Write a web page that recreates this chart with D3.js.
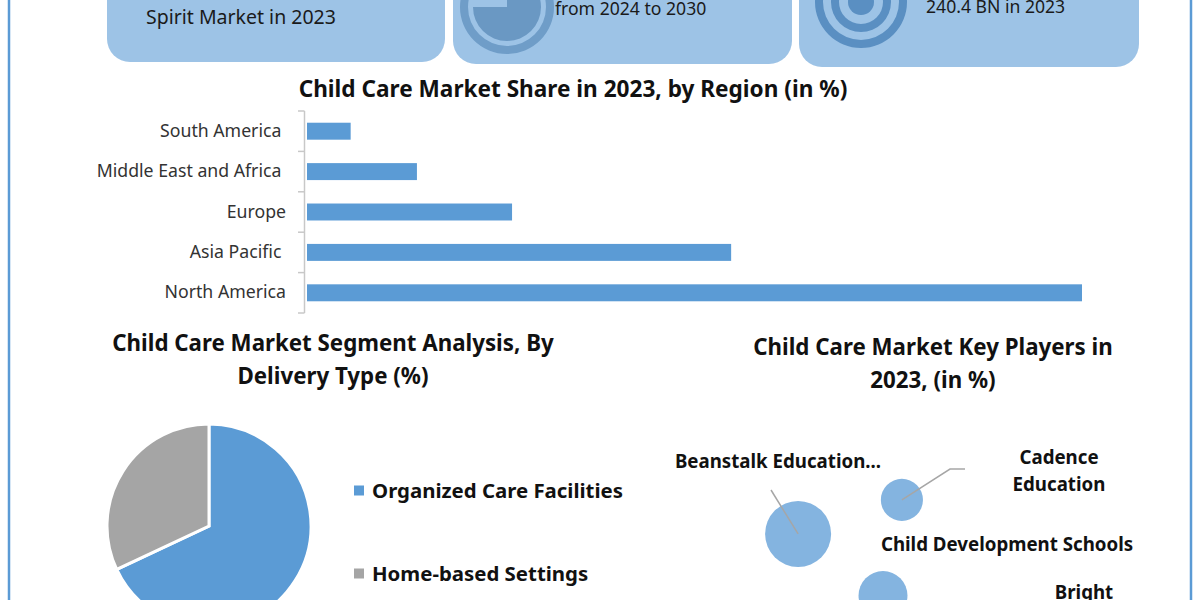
<!DOCTYPE html>
<html>
<head>
<meta charset="utf-8">
<script src="https://cdnjs.cloudflare.com/ajax/libs/d3/7.8.5/d3.min.js"></script>
<style>
    html, body { margin: 0; padding: 0; background: #fff; overflow: hidden; }
    text { font-family: "Noto Sans", "Open Sans", sans-serif; }
    .title { font-size: 22.3px; font-weight: 700; fill: #111; text-anchor: middle; }
    .card-text { font-size: 17.6px; fill: #1a1a1a; }
    .region-label { font-size: 17.7px; fill: #333; text-anchor: end; white-space: pre; }
    .legend-text { font-size: 20.4px; font-weight: 700; fill: #111; }
    .bubble-text { font-size: 18.7px; font-weight: 700; fill: #111; text-anchor: middle; }
</style>
</head>
<body>
<script>
    // Bar chart data
    var regions = ["South America", "Middle East and Africa", "Europe", "Asia Pacific", "North America"];
    var regionLabels = ["South America ", "Middle East and Africa ", "Europe", "Asia Pacific ", "North America"];
    var regionShare = [2.8, 7.05, 13.15, 27.2, 49.7];

    // Pie chart data
    var deliveryTypes = ["Organized Care Facilities", "Home-based Settings"];
    var deliveryShare = [68, 32];

    // Bubble chart data (relative position and size, no axes in the picture)
    var players = ["Beanstalk Education", "Cadence Education", "Bright Horizons"];
    var playerX = [0.327, 0.673, 0.61];
    var playerY = [0.367, 0.556, 0.025];
    var playerSize = [18.2, 7.4, 10];

    var width = 1200,
        height = 600;

    var svg = d3.select("body")
        .append("svg")
        .attr("width", width)
        .attr("height", height);

    svg.append("rect")
        .attr("width", width)
        .attr("height", height)
        .attr("fill", "#ffffff");

    // page frame, only the two sides are in view
    svg.append("line").attr("x1", 9).attr("x2", 9).attr("y1", 0).attr("y2", height)
        .attr("stroke", "#5b9bd5").attr("stroke-width", 2.5);
    svg.append("line").attr("x1", 1191).attr("x2", 1191).attr("y1", 0).attr("y2", height)
        .attr("stroke", "#5b9bd5").attr("stroke-width", 2.5);

    drawCards();
    drawBars();
    drawPie();
    drawBubbles();

    function drawCards(){
        var card = "#9dc3e6";

        [[107, 445, 62], [453, 792, 64], [799, 1139, 67]].forEach(function(c){
            svg.append("rect")
                .attr("x", c[0])
                .attr("y", -40)
                .attr("width", c[1] - c[0])
                .attr("height", c[2] + 40)
                .attr("rx", 23)
                .attr("fill", card);
        });

        svg.append("text").attr("class", "card-text").attr("x", 146).attr("y", 24)
            .style("font-size", "19.5px").text("Spirit Market in 2023");
        svg.append("text").attr("class", "card-text").attr("x", 555).attr("y", 15).text("from 2024 to 2030");
        svg.append("text").attr("class", "card-text").attr("x", 926).attr("y", 13).text("240.4 BN in 2023");

        // pie icon
        var icon = svg.append("g").attr("transform", "translate(507,7)");
        icon.append("path")
            .attr("d", d3.arc()({innerRadius: 39, outerRadius: 47, startAngle: 0, endAngle: 2 * Math.PI}))
            .attr("fill", "#6f9dc8");
        icon.append("path")
            .attr("d", d3.arc()({innerRadius: 0, outerRadius: 34, startAngle: 0, endAngle: 1.5 * Math.PI}))
            .attr("fill", "#6a98c3");

        // target icon
        var target = svg.append("g").attr("transform", "translate(861,2)");
        [[38, 46], [22, 30], [0, 13]].forEach(function(r){
            target.append("path")
                .attr("d", d3.arc()({innerRadius: r[0], outerRadius: r[1], startAngle: 0, endAngle: 2 * Math.PI}))
                .attr("fill", "#5a8fc2");
        });
    }

    function drawBars(){
        var x = d3.scaleLinear()
            .domain([0, 49.7])
            .range([307, 1082]);

        var y = d3.scaleBand()
            .domain(regions)
            .range([111, 313])
            .paddingInner(0.58)
            .paddingOuter(0.29);

        svg.append("text")
            .attr("class", "title")
            .attr("x", 573)
            .attr("y", 97)
            .style("font-size", "22.6px")
            .text("Child Care Market Share in 2023, by Region (in %)");

        svg.selectAll(".bar")
            .data(regions)
            .enter()
            .append("rect")
            .attr("class", "bar")
            .attr("x", x(0))
            .attr("y", d => y(d))
            .attr("width", (d, i) => x(regionShare[i]) - x(0))
            .attr("height", y.bandwidth())
            .attr("fill", "#5b9bd5");

        // axis line with ticks between the bands
        var step = y.step();
        var edges = d3.range(regions.length + 1).map(i => y.range()[0] + i * step);

        svg.append("line")
            .attr("x1", 304.5).attr("x2", 304.5)
            .attr("y1", edges[0]).attr("y2", edges[regions.length])
            .attr("stroke", "#c8c8c8").attr("stroke-width", 1.5);

        svg.selectAll(".edge")
            .data(edges)
            .enter()
            .append("line")
            .attr("class", "edge")
            .attr("x1", 298).attr("x2", 304.5)
            .attr("y1", d => d).attr("y2", d => d)
            .attr("stroke", "#c8c8c8").attr("stroke-width", 1.5);

        svg.selectAll(".region-label")
            .data(regionLabels)
            .enter()
            .append("text")
            .attr("class", "region-label")
            .attr("x", 286)
            .attr("y", (d, i) => y(regions[i]) + y.bandwidth() / 2 + 5.5)
            .text(d => d);
    }

    function drawPie(){
        var colors = ["#5b9bd5", "#a5a5a5"];

        svg.append("text").attr("class", "title").attr("x", 333).attr("y", 351)
            .text("Child Care Market Segment Analysis, By");
        svg.append("text").attr("class", "title").attr("x", 333).attr("y", 384)
            .text("Delivery Type (%)");

        var pie = d3.pie().sort(null);
        var arc = d3.arc().innerRadius(0).outerRadius(102);

        var g = svg.append("g").attr("transform", "translate(209,526)");

        g.selectAll("path")
            .data(pie(deliveryShare))
            .enter()
            .append("path")
            .attr("d", arc)
            .attr("fill", (d, i) => colors[i])
            .attr("stroke", "#ffffff")
            .attr("stroke-width", 3);

        var legendY = d3.scalePoint()
            .domain(deliveryTypes)
            .range([490.5, 573.5]);

        svg.selectAll(".legend-mark")
            .data(deliveryTypes)
            .enter()
            .append("rect")
            .attr("class", "legend-mark")
            .attr("x", 354)
            .attr("y", d => legendY(d) - 5)
            .attr("width", 10)
            .attr("height", 10)
            .attr("fill", (d, i) => colors[i]);

        svg.selectAll(".legend-text")
            .data(deliveryTypes)
            .enter()
            .append("text")
            .attr("class", "legend-text")
            .attr("x", 372)
            .attr("y", d => legendY(d) + 7)
            .text(d => d);
    }

    function drawBubbles(){
        var x = d3.scaleLinear().domain([0, 1]).range([700, 1000]);
        var y = d3.scaleLinear().domain([0, 1]).range([600, 420]);
        var r = d3.scaleSqrt().domain([0, 20]).range([0, 34.6]);

        svg.append("text").attr("class", "title").attr("x", 933).attr("y", 355)
            .text("Child Care Market Key Players in");
        svg.append("text").attr("class", "title").attr("x", 933).attr("y", 388)
            .text("2023, (in %)");

        svg.selectAll(".bubble")
            .data(players)
            .enter()
            .append("circle")
            .attr("class", "bubble")
            .attr("cx", (d, i) => x(playerX[i]))
            .attr("cy", (d, i) => y(playerY[i]))
            .attr("r", (d, i) => r(playerSize[i]))
            .attr("fill", "#84b4e0");

        // leader lines run from the bubble centre to its label
        var leader = d3.line();
        svg.append("path")
            .attr("d", leader([[x(playerX[0]), y(playerY[0])], [771, 490]]))
            .attr("fill", "none").attr("stroke", "#a6a6a6").attr("stroke-width", 1.5);
        svg.append("path")
            .attr("d", leader([[x(playerX[1]), y(playerY[1])], [950, 469], [965, 469]]))
            .attr("fill", "none").attr("stroke", "#a6a6a6").attr("stroke-width", 1.5);

        svg.append("text").attr("class", "bubble-text").attr("x", 778).attr("y", 468).text("Beanstalk Education...");
        svg.append("text").attr("class", "bubble-text").attr("x", 1059).attr("y", 464).text("Cadence");
        svg.append("text").attr("class", "bubble-text").attr("x", 1059).attr("y", 491).text("Education");
        svg.append("text").attr("class", "bubble-text").attr("x", 1007).attr("y", 551).text("Child Development Schools");
        svg.append("text").attr("class", "bubble-text").attr("x", 1084).attr("y", 599).text("Bright");
    }
</script>
</body>
</html>
